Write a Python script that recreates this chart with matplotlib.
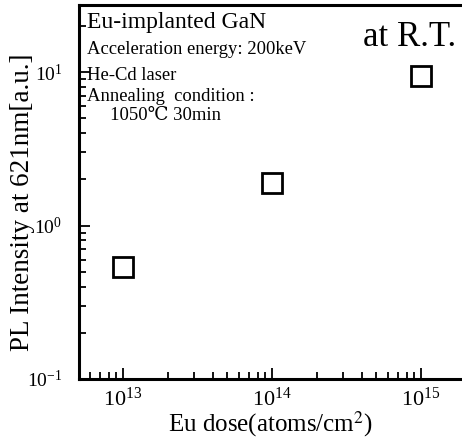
import matplotlib.pyplot as plt
import numpy as np

plt.rcParams['font.family'] = ['Liberation Serif', 'DejaVu Serif']
plt.rcParams['mathtext.fontset'] = 'stix'
plt.rcParams['axes.unicode_minus'] = False

# data
eu_dose = [1e13, 1e14, 1e15]
pl_intensity = [0.54, 1.9, 9.5]

notes = ['Acceleration energy: 200keV', 'He-Cd laser',
         'Annealing  condition :', '     1050\u2103 30min']


def main():
    fig = plt.figure(figsize=(4.62, 4.40), dpi=100)
    ax = fig.add_axes([0.171, 0.139, 0.829, 0.850])

    ax.plot(eu_dose, pl_intensity, linestyle='none', marker='s', markersize=14,
            markerfacecolor='white', markeredgecolor='black', markeredgewidth=2)

    ax.set_xscale('log')
    ax.set_yscale('log')
    ax.set_xlim(10 ** 12.705, 10 ** 15.275)
    ax.set_ylim(0.1, 10 ** 1.44)

    ax.set_xticks([1e13, 1e14, 1e15])
    ax.set_yticks([0.1, 1, 10])
    ax.tick_params(which='both', direction='in', top=False, right=False, width=1.3)
    ax.tick_params(which='major', length=8)
    ax.tick_params(which='minor', length=5)
    ax.tick_params(axis='y', pad=12, labelsize=14)
    ax.tick_params(axis='x', pad=6, labelsize=16)

    for side in ['left', 'bottom', 'top']:
        ax.spines[side].set_linewidth(2.2)
    ax.spines['right'].set_visible(False)

    ax.set_xlabel('Eu dose(atoms/cm$^2$)', fontsize=18, labelpad=-1)
    ax.set_ylabel('PL Intensity at 621nm[a.u.]', fontsize=19.5)
    ax.yaxis.set_label_coords(-0.115, 0.473)

    ax.text(0.02, 0.981, 'Eu-implanted GaN', transform=ax.transAxes,
            fontsize=17, va='top', ha='left')
    ys = [0.903, 0.834, 0.777, 0.727]
    for y, s in zip(ys, notes):
        ax.text(0.02, y, s, transform=ax.transAxes, fontsize=13.4, va='top', ha='left')
    ax.text(0.985, 0.958, 'at R.T.', transform=ax.transAxes,
            fontsize=25, va='top', ha='right')

    fig.savefig('out.png', dpi=100)


if __name__ == "__main__":
    main()
